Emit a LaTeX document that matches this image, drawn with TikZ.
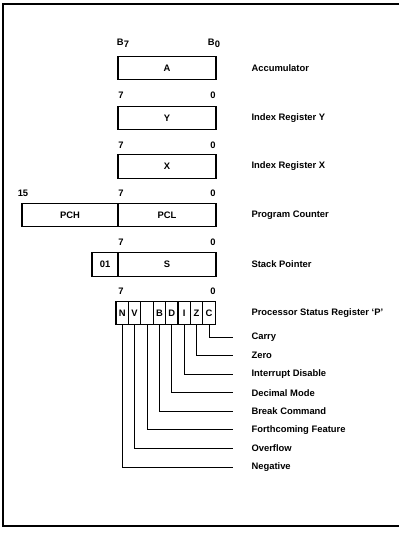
\documentclass[tikz,border=0pt]{standalone}
\usepackage{fontspec}
\setmainfont{Liberation Sans}
\usetikzlibrary{positioning}

\begin{document}
\begin{tikzpicture}[
    x=1pt,y=-1pt,
    every node/.style={font=\fontsize{9.4}{11}\selectfont\bfseries},
    reg/.style={draw,line width=1.2pt,minimum height=23.5pt,inner sep=0pt},
    cell/.style={reg,minimum width=12.4pt},
    desc/.style={anchor=west},
    lead/.style={line width=0.8pt}
]
\useasboundingbox (0,0) rectangle (399,534);
% frame, open on the right
\draw[line width=1.4pt] (399,4) -- (3,4) -- (3,526) -- (399,526);

% Accumulator
\node (b7) at (123,43) {B\raisebox{-0.45ex}{7}};
\node (b0) at (214,43) {B\raisebox{-0.45ex}{0}};
\node[reg,minimum width=98pt] (acc) at (167,68) {A};
\node[desc] (accd) at (248,68) {Accumulator};

% Index registers
\node (y7) at (121,95) {7};
\node (y0) at (213,95) {0};
\node[reg,minimum width=98pt] (iry) at (167,118) {Y};
\node[desc] (iryd) at (248,118) {Index Register Y};

\node (x7) at (121,145) {7};
\node (x0) at (213,145) {0};
\node[reg,minimum width=98pt] (irx) at (167,166.5) {X};
\node[desc] (irxd) at (248,166.5) {Index Register X};

% Program counter
\node (pc15) at (23,193) {15};
\node (pc7) at (121,193) {7};
\node (pc0) at (213,193) {0};
\node[reg,minimum width=96pt] (pch) at (70,215) {PCH};
\node[reg,minimum width=98pt] (pcl) at (167,215) {PCL};
\node[desc] (pcd) at (248,215) {Program Counter};

% Stack pointer
\node (sp7) at (121,242) {7};
\node (sp0) at (213,242) {0};
\node[reg,minimum width=26pt] (sphi) at (105,264.5) {01};
\node[reg,minimum width=98pt] (sp) at (167,264.5) {S};
\node[desc] (spd) at (248,264.5) {Stack Pointer};

% Status register
\node (p7) at (121,291) {7};
\node (p0) at (213,291) {0};
\foreach \f [count=\i] in {N,V,{},B,D,I,Z,C}
  \node[cell] (f\i) at (116+12.4*\i-6.2,313) {\f};
\node[desc] (pd) at (248,313) {Processor Status Register `P'};

% flag leaders
\foreach \i/\t [count=\k] in {8/Carry,7/Zero,6/Interrupt Disable,5/Decimal Mode,
    4/Break Command,3/Forthcoming Feature,2/Overflow,1/Negative}{
  \coordinate (e\i) at (233,337+18.57*\k-18.57);
  \draw[lead] (f\i.south) |- (e\i);
  \node[desc] (d\i) at (248,337+18.57*\k-18.57) {\t};
}
\end{tikzpicture}
\end{document}
